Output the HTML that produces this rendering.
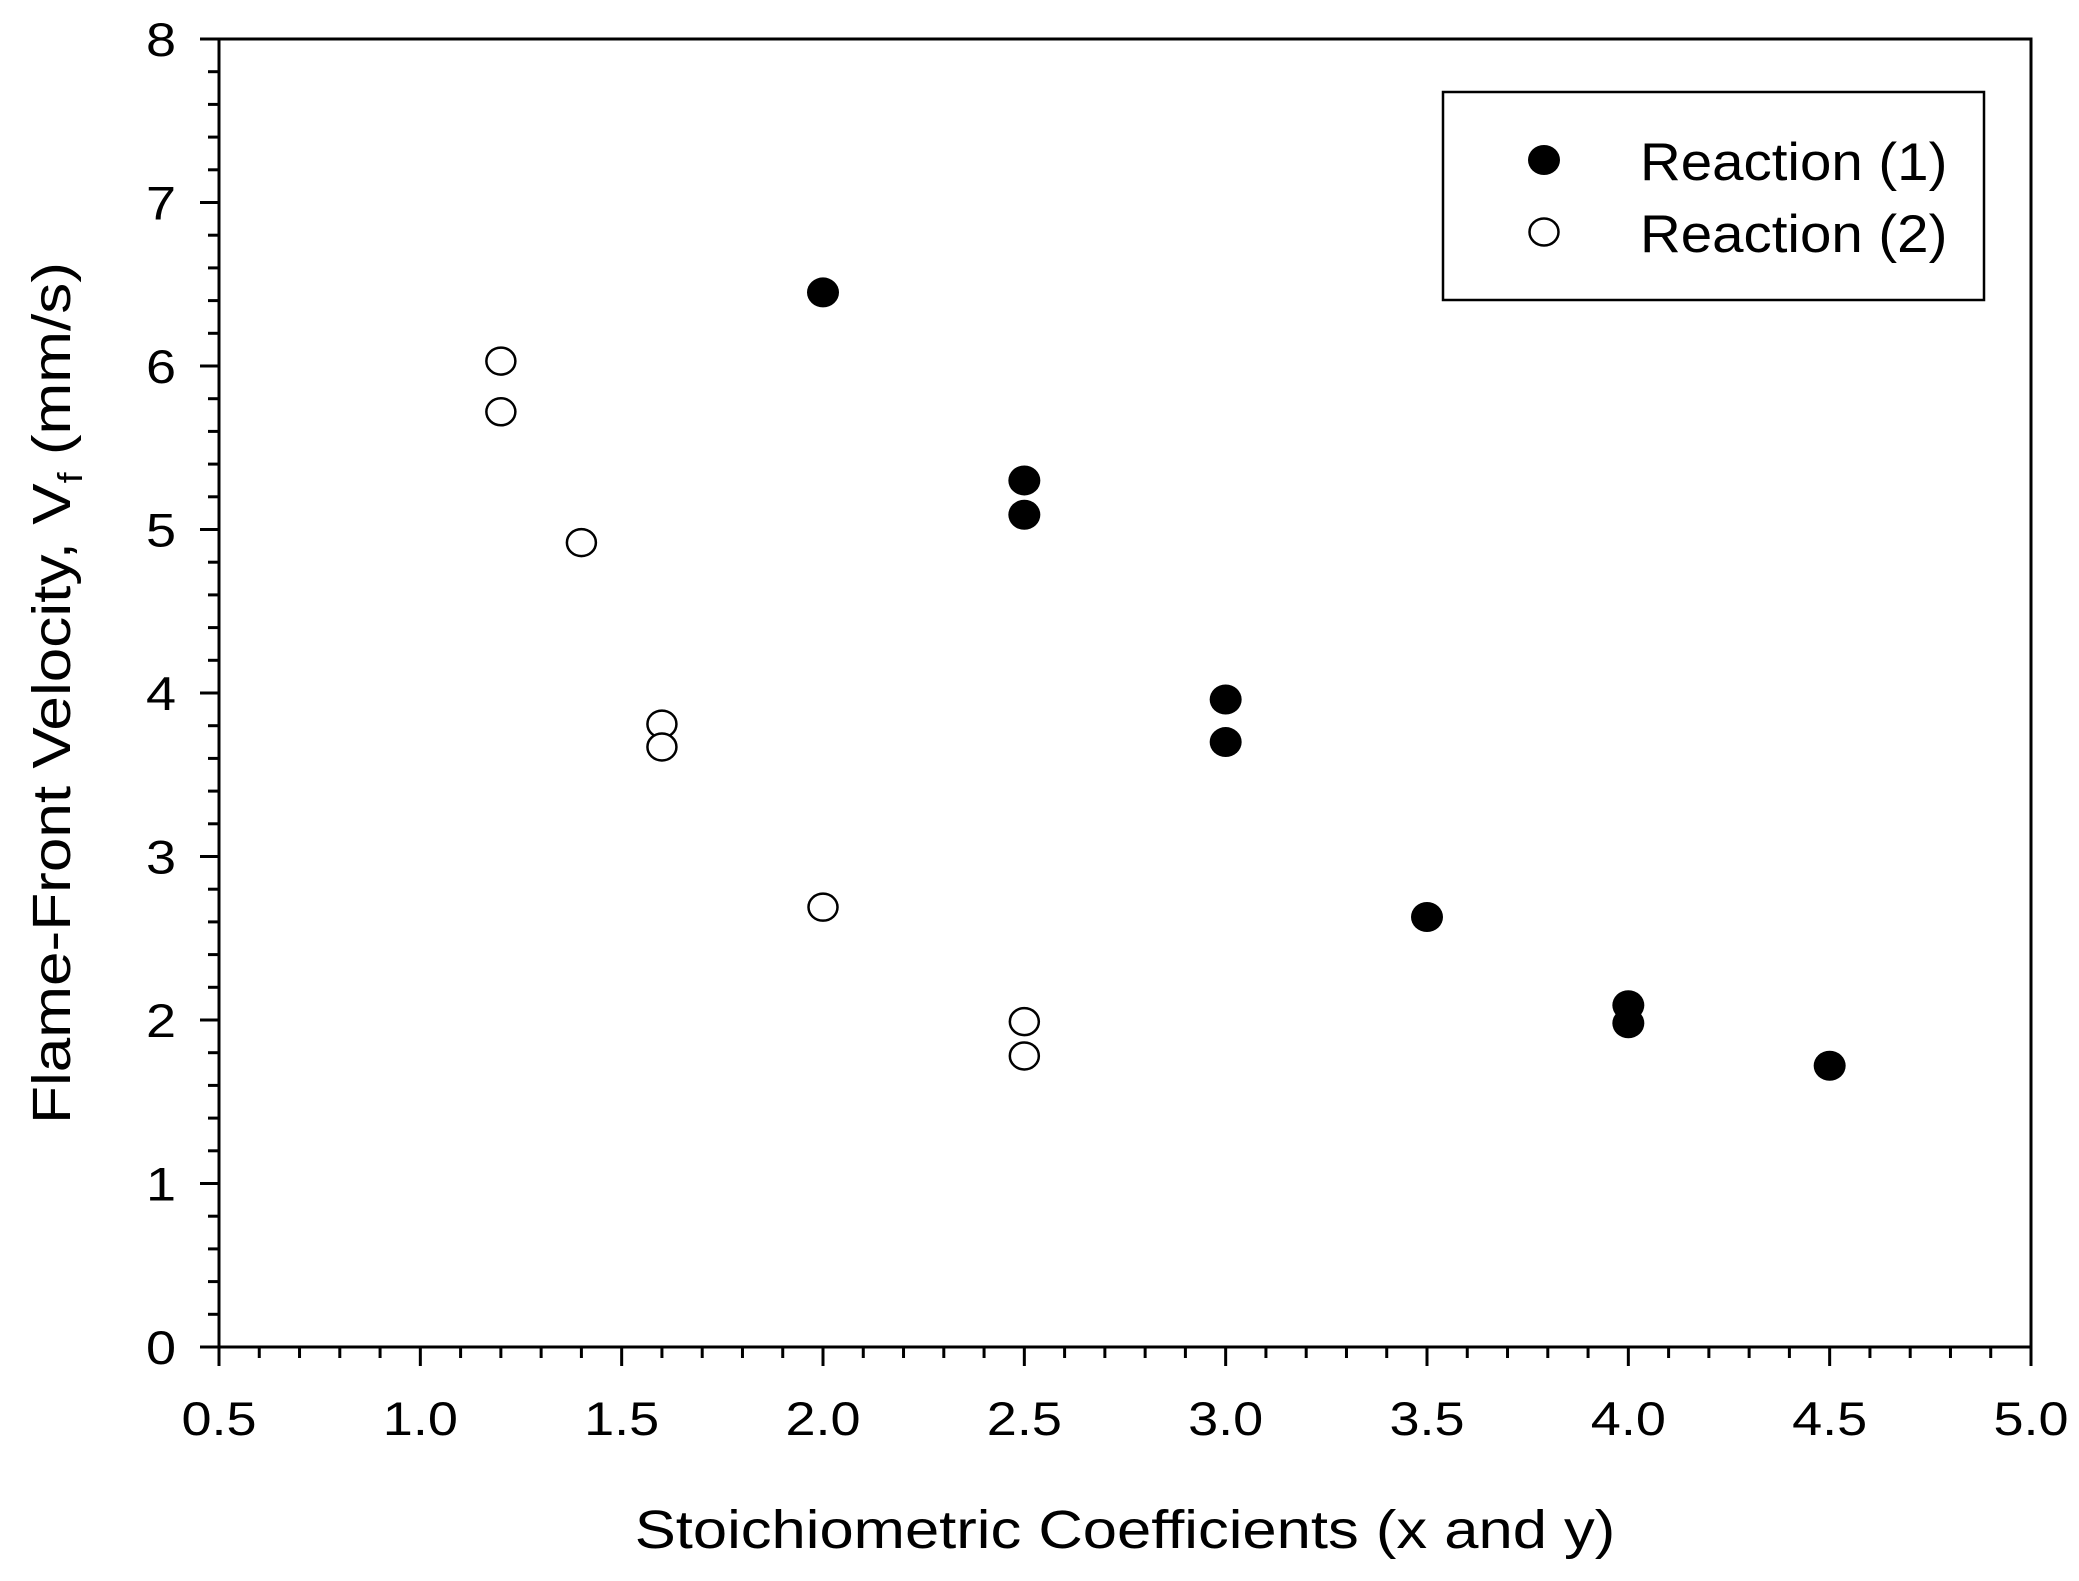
<!DOCTYPE html>
<html><head><meta charset="utf-8"><style>
html,body{margin:0;padding:0;background:#fff;}
svg text{font-family:"Liberation Sans",Arial,sans-serif;fill:#000;}
</style></head><body>
<svg id="chart" width="2079" height="1576" viewBox="0 0 2079 1576" xmlns="http://www.w3.org/2000/svg">
<rect width="2079" height="1576" fill="#fff"/>
<g id="axes"></g>
<g id="marks"></g>
<g id="legend">
<rect x="1443" y="92" width="541" height="208" fill="#fff" stroke="#000" stroke-width="2.5"/>
<ellipse cx="1544" cy="160" rx="16" ry="15" fill="#000"/>
<text transform="translate(1640,180) scale(1.065,1)" font-size="53">Reaction (1)</text>
<ellipse cx="1544" cy="232" rx="14.5" ry="13.5" fill="#fff" stroke="#000" stroke-width="2.5"/>
<text transform="translate(1640,252) scale(1.065,1)" font-size="53">Reaction (2)</text>
</g>
<text transform="translate(1125,1548) scale(1.14,1)" font-size="54" text-anchor="middle">Stoichiometric Coefficients (x and y)</text>
<text transform="translate(70,693) rotate(-90) scale(1.15,1)" font-size="54" text-anchor="middle">Flame-Front Velocity, V<tspan font-size="34" dy="12">f</tspan><tspan dy="-12"> (mm/s)</tspan></text>
</svg>
<script>
const xTicks = [0.5,1.0,1.5,2.0,2.5,3.0,3.5,4.0,4.5,5.0];
const yTicks = [0,1,2,3,4,5,6,7,8];
const r1x = [2.0,2.5,2.5,3.0,3.0,3.5,4.0,4.0,4.5];
const r1y = [6.45,5.30,5.09,3.96,3.70,2.63,2.09,1.98,1.72];
const r2x = [1.2,1.2,1.4,1.6,1.6,2.0,2.5,2.5];
const r2y = [6.03,5.72,4.92,3.81,3.67,2.69,1.99,1.78];
const L=219,R=2031,T=39,B=1347;
function sx(v){return L+(v-0.5)/4.5*(R-L);}
function sy(v){return B-v/8*(B-T);}
const NS='http://www.w3.org/2000/svg';
function mk(tag,attrs,parent){const e=document.createElementNS(NS,tag);for(const k in attrs)e.setAttribute(k,attrs[k]);parent.appendChild(e);return e;}
const axes=document.getElementById('axes');
const frame=mk('rect',{x:L,y:T,width:R-L,height:B-T,fill:'none',stroke:'#000','stroke-width':3},axes);


for(let i=0;i<=45;i++){const v=0.5+i*0.1;const major=i%5===0;
 const t=mk('line',{x1:sx(v),x2:sx(v),y1:B,y2:B+(major?19:11),stroke:'#000','stroke-width':3},axes);
 
 }
for(let i=0;i<=40;i++){const v=i*0.2;const major=i%5===0;
 const t=mk('line',{x1:L-(major?19:11),x2:L,y1:sy(v),y2:sy(v),stroke:'#000','stroke-width':3},axes);
 
 }
xTicks.forEach(v=>{const t=mk('text',{transform:'translate('+sx(v)+',1435) scale(1.15,1)','font-size':47,'text-anchor':'middle'},axes);t.textContent=v.toFixed(1);
 
 });
yTicks.forEach(v=>{const t=mk('text',{transform:'translate(176,'+(sy(v)+17)+') scale(1.15,1)','font-size':47,'text-anchor':'end'},axes);t.textContent=String(v);
 
 });
const marks=document.getElementById('marks');
r2x.forEach((x,i)=>{const c=mk('ellipse',{cx:sx(x),cy:sy(r2y[i]),rx:14.5,ry:13.5,fill:'#fff',stroke:'#000','stroke-width':2.5},marks);
 
 });
r1x.forEach((x,i)=>{const c=mk('ellipse',{cx:sx(x),cy:sy(r1y[i]),rx:16,ry:15,fill:'#000'},marks);
 
 });
</script>
</body></html>
